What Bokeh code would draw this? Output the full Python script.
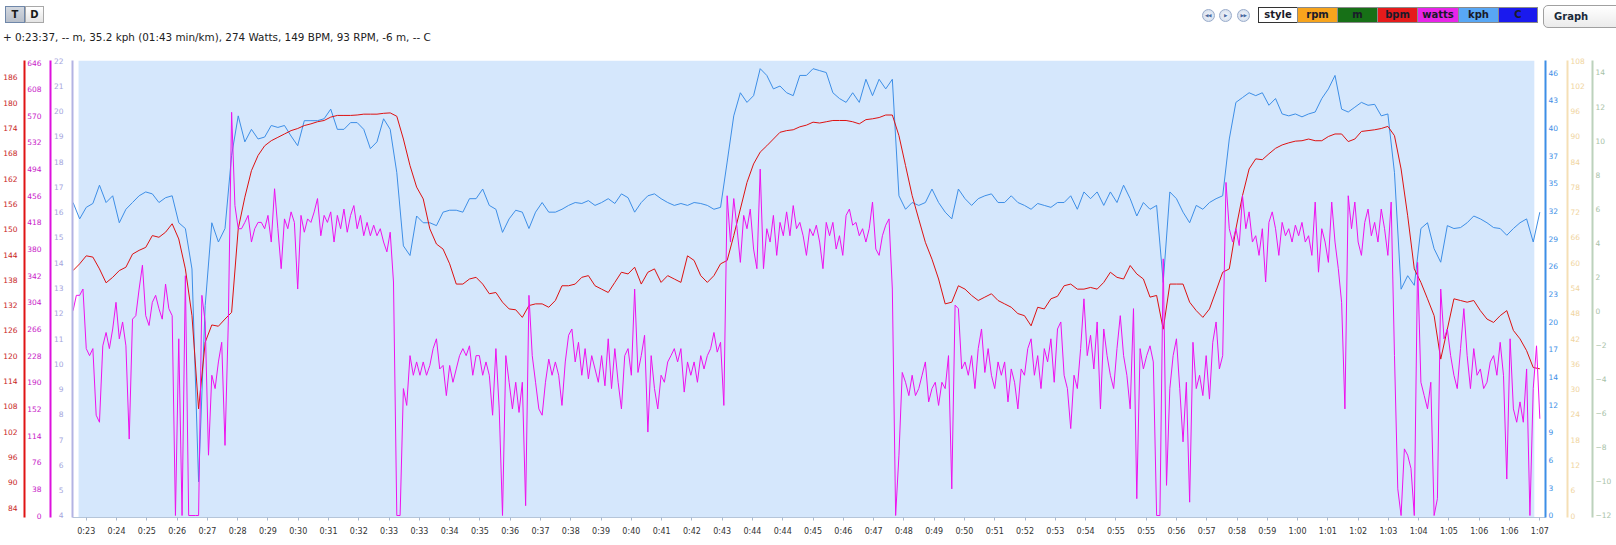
from bokeh.plotting import figure
from bokeh.models import Range1d, LinearAxis, FixedTicker, BoxAnnotation, Div
from bokeh.layouts import column
from bokeh.embed import file_html
from bokeh.resources import INLINE

# ---------------- data (time in seconds from start of ride) ----------------
time_start = 1407          # first sample, 0:23:27
watts_step = 6             # seconds between power samples
hr_speed_step = 12         # seconds between heart-rate / speed samples

watts = [292, 314, 314, 323, 238, 228, 238, 143, 133, 242,
         261, 238, 266, 304, 252, 276, 242, 109, 280, 285,
         323, 357, 285, 271, 304, 314, 295, 280, 330, 295,
         285, 0, 252, 0, 342, 0, 0, 0, 0, 314,
         276, 86, 200, 181, 219, 247, 100, 276, 575, 442,
         409, 409, 418, 428, 390, 409, 418, 418, 409, 428,
         390, 466, 409, 352, 423, 409, 433, 418, 323, 428,
         404, 423, 418, 433, 452, 399, 428, 418, 433, 390,
         428, 409, 437, 404, 428, 442, 409, 428, 399, 418,
         399, 414, 399, 409, 390, 376, 404, 333, 0, 0,
         181, 157, 228, 200, 219, 200, 219, 200, 214, 238,
         252, 209, 214, 171, 214, 190, 209, 228, 238, 228,
         242, 200, 228, 228, 200, 219, 200, 143, 238, 152,
         0, 228, 190, 152, 190, 147, 190, 14, 314, 228,
         190, 152, 143, 190, 223, 200, 219, 200, 157, 219,
         257, 266, 219, 247, 200, 238, 195, 228, 209, 190,
         228, 185, 252, 181, 238, 190, 152, 228, 238, 200,
         323, 204, 228, 257, 119, 228, 181, 152, 200, 190,
         219, 228, 238, 219, 238, 176, 219, 200, 219, 190,
         228, 209, 228, 238, 261, 233, 247, 157, 456, 390,
         452, 409, 361, 428, 409, 437, 380, 352, 494, 352,
         409, 390, 428, 371, 418, 399, 433, 399, 442, 409,
         418, 399, 371, 409, 399, 414, 390, 352, 418, 399,
         418, 380, 399, 371, 428, 437, 414, 418, 399, 409,
         390, 409, 447, 380, 371, 399, 414, 423, 323, 0,
         86, 204, 190, 171, 200, 171, 181, 200, 219, 162,
         181, 190, 157, 190, 181, 228, 38, 300, 295, 209,
         219, 200, 228, 181, 238, 266, 204, 238, 200, 181,
         219, 200, 219, 162, 209, 190, 152, 209, 200, 238,
         252, 200, 228, 181, 238, 219, 252, 190,
         266, 276, 200, 181, 124, 200, 181, 238, 309, 228,
         257, 209, 276, 152, 266, 228, 200, 181, 238, 285,
         228, 200, 152, 295, 24, 238, 209, 228, 242, 219,
         0, 0, 366, 43, 181, 228, 252, 181, 105, 190,
         19, 247, 181, 200, 171, 228, 166, 247, 276, 209,
         228, 475, 409, 390, 409, 385, 456, 409, 433, 390,
         399, 371, 409, 333, 418, 433, 409, 371, 418, 399,
         409, 390, 414, 399, 418, 390, 399, 371, 447, 347,
         409, 390, 361, 447, 390, 352, 304, 152, 456, 409,
         447, 390, 371, 418, 437, 399, 418, 390, 437, 409,
         371, 447, 228, 38, 0, 95, 86, 67, 0, 361,
         190, 171, 152, 190, 0, 24, 323, 252, 266, 228,
         200, 181, 238, 295, 228, 181, 238, 200, 209, 181,
         190, 219, 228, 200, 247, 200, 52, 252, 152, 133,
         162, 133, 209, 0, 181, 242, 138]

kph = [32.5, 30.8, 32.0, 32.4, 34.3, 32.5, 33.2, 30.4, 31.8, 32.5,
       33.2, 33.6, 33.4, 32.5, 33.0, 33.2, 30.4, 29.8, 25.6, 3.5,
       21.8, 30.4, 28.4, 29.8, 37.4, 41.5, 38.8, 40.1, 39.1, 39.3,
       40.5, 40.3, 40.5, 39.4, 38.4, 41.0, 41.0, 41.0, 41.2, 42.2,
       40.1, 40.1, 40.8, 40.8, 40.1, 38.1, 38.8, 41.2, 40.1, 35.6,
       28.0, 27.0, 31.1, 30.4, 30.4, 30.1, 31.5, 31.7, 31.7, 31.5,
       32.9, 32.9, 33.9, 32.2, 31.8, 29.4, 30.8, 31.7, 31.5, 29.8,
       31.5, 32.5, 31.5, 31.5, 31.8,
       32.2, 32.5, 32.4, 32.7, 32.2, 32.5, 32.9, 32.4, 33.4, 33.0,
       31.5, 32.5, 33.2, 33.4, 32.9, 32.5, 32.2, 32.4, 32.2, 32.5,
       32.4, 32.2, 31.8, 32.0, 36.7, 41.5, 43.9, 42.9, 43.6, 46.4,
       45.7, 44.3, 44.6, 43.9, 43.6, 45.7, 45.7, 46.4, 46.2, 46.0,
       43.9, 43.3, 42.9, 43.9, 42.9, 45.3, 43.6, 45.3, 44.3, 45.3,
       33.2, 31.8, 32.5, 32.2, 32.5, 33.9, 32.5, 31.5, 30.8, 33.9,
       32.9, 32.2, 32.9, 33.2, 33.4, 32.5, 32.5, 33.2, 32.5, 32.2,
       31.8, 32.4, 32.2, 32.0,
       32.5, 32.5, 33.2, 31.8, 33.6, 32.9, 33.6, 32.2, 33.6, 32.5,
       34.3, 32.9, 31.1, 32.5, 31.8, 32.2, 24.2, 33.6, 32.9, 31.5,
       30.4, 32.2, 31.8, 32.5, 32.9, 33.2, 39.1, 42.9, 43.4, 43.9,
       43.6, 43.9, 42.6, 43.3, 41.7, 41.5, 41.7, 41.4, 41.7, 41.9,
       43.3, 44.3, 45.7, 42.2, 41.9, 42.4, 42.9, 42.6, 42.7, 41.5,
       41.7, 35.6, 23.5, 24.9, 23.9, 29.8, 30.4, 27.7, 26.3, 30.1,
       29.8, 29.9, 30.4, 31.1, 30.8, 30.4, 29.9, 29.8, 29.1, 29.8,
       30.4, 30.8, 28.4, 31.5]

bpm = [140.2, 141.8, 143.7, 143.4, 140.6, 137.3, 138.6, 140.2, 141.0, 144.1,
       145.0, 145.7, 148.5, 148.1, 149.3, 151.3, 147.7, 140.6, 129.5, 107.4,
       123.2, 127.3, 127.0, 128.7, 130.3, 150.1, 157.6, 163.9, 167.5, 169.8,
       171.0, 171.8, 172.6, 173.4, 173.9, 174.6, 175.0, 175.5, 175.8, 176.6,
       177.0, 177.0, 177.0, 177.1, 177.3, 177.3, 177.3, 177.5, 177.6, 176.8,
       171.4, 165.1, 160.0, 157.2, 150.1, 146.5, 145.3, 141.8, 137.0, 137.0,
       138.2, 138.6, 137.0, 134.7, 135.0, 132.7, 131.1, 130.9, 129.1, 131.9,
       132.3, 132.3, 131.5, 133.1, 136.6,
       136.6, 137.0, 138.6, 139.0, 136.6, 135.8, 135.0, 137.4, 139.8, 139.4,
       141.0, 137.0, 139.8, 140.6, 137.4, 139.0, 138.2, 137.4, 143.7, 142.6,
       139.0, 137.4, 139.0, 141.8, 142.6, 148.5, 154.8, 161.1, 165.5, 168.3,
       169.8, 171.4, 173.0, 173.4, 173.6, 174.3, 174.7, 175.4, 175.2, 175.5,
       175.8, 175.8, 175.8, 175.5, 175.0, 176.0, 176.2, 176.5, 177.1, 177.1,
       172.2, 165.1, 158.0, 152.4, 146.9, 142.9, 138.2, 132.3, 132.7, 136.6,
       135.8, 134.3, 133.1, 133.9, 134.7, 133.1, 132.3, 131.5, 130.0, 129.5,
       127.1, 131.5, 131.1, 133.5,
       134.1, 136.6, 137.0, 135.8, 135.8, 136.2, 135.8, 137.4, 139.8, 138.6,
       138.2, 141.4, 139.4, 138.2, 133.9, 134.3, 126.3, 137.0, 137.0, 137.0,
       132.7, 130.7, 129.1, 131.1, 135.4, 139.8, 140.6, 150.1, 158.0, 164.3,
       166.7, 166.5, 167.9, 169.2, 170.0, 170.5, 170.9, 171.0, 171.4, 171.0,
       171.0, 172.0, 172.6, 172.6, 170.8, 171.4, 173.2, 173.4, 173.6, 173.9,
       174.4, 172.2, 164.3, 153.2, 140.6, 137.4, 133.5, 129.5, 119.2, 126.3,
       133.5, 133.1, 132.7, 133.1, 130.7, 128.7, 127.9, 129.5, 130.7, 126.0,
       124.0, 121.2, 117.2, 116.9]

selection_start, selection_end = 1417, 4061   # highlighted range (0:23:37 ...)

x_tick_labels = ["0:23", "0:24", "0:25", "0:26", "0:27", "0:28", "0:29", "0:30", "0:31", "0:32",
                 "0:33", "0:33", "0:34", "0:35", "0:36", "0:37", "0:38", "0:39", "0:40", "0:41",
                 "0:42", "0:43", "0:44", "0:44", "0:45", "0:46", "0:47", "0:48", "0:49", "0:50",
                 "0:51", "0:52", "0:53", "0:54", "0:55", "0:55", "0:56", "0:57", "0:58", "0:59",
                 "1:00", "1:01", "1:02", "1:03", "1:04", "1:05", "1:06", "1:06", "1:07"]
x_tick_first, x_tick_step = 1431, 55

bpm_ticks = [84, 90, 96, 102, 108, 114, 120, 126, 132, 138, 144, 150, 156, 162, 168, 174, 180, 186]
watts_ticks = [0, 38, 76, 114, 152, 190, 228, 266, 304, 342, 380, 418, 456, 494, 532, 570, 608, 646]
lav_ticks = [4, 5, 6, 7, 8, 9, 10, 11, 12, 13, 14, 15, 16, 17, 18, 19, 20, 21, 22]
kph_tick_step = 2.875
kph_tick_labels = ["0", "3", "6", "9", "12", "14", "17", "20", "23", "26", "29", "32", "35", "37", "40", "43", "46"]
rpm_ticks = [0, 6, 12, 18, 24, 30, 36, 42, 48, 54, 60, 66, 72, 78, 84, 90, 96, 102, 108]
temp_ticks = [-12, -10, -8, -6, -4, -2, 0, 2, 4, 6, 8, 10, 12, 14]

header_text = "+ 0:23:37, -- m, 35.2 kph (01:43 min/km), 274 Watts, 149 BPM, 93 RPM, -6 m, -- C"
legend_names = ["style", "rpm", "m", "bpm", "watts", "kph", "C"]
legend_colors = ["#ffffff", "#f7a41d", "#177017", "#e51b1b", "#e824e8", "#58a7f5", "#1a1aee"]
nav_symbols = ["\u25c0\u25c0", "\u25b6", "\u25b6\u25b6"]

# ---------------- derived ----------------
watts_t = [time_start + watts_step * i for i in range(len(watts))]
hs_t = [time_start + hr_speed_step * i for i in range(len(kph))]
x_ticks = [x_tick_first + x_tick_step * i for i in range(len(x_tick_labels))]
kph_ticks = [kph_tick_step * i for i in range(len(kph_tick_labels))]

FONT = "DejaVu Sans"

# ---------------- header strip (HTML) ----------------
def box(left, top, w, h, style, inner=""):
    return (f'<div style="position:absolute;left:{left}px;top:{top}px;width:{w}px;height:{h}px;'
            f'box-sizing:border-box;{style}">{inner}</div>')

parts = []
parts.append(box(5, 6, 20, 17, "background:linear-gradient(#d3d8e0,#b8bfca);border:1px solid #6f87a9;"
                 "font-weight:bold;font-size:10px;line-height:15px;text-align:center;color:#1a1a1a;", "T"))
parts.append(box(25, 6, 19, 17, "background:linear-gradient(#ffffff,#e4e4e4);border:1px solid #a8a8a8;"
                 "font-weight:bold;font-size:10px;line-height:15px;text-align:center;color:#1a1a1a;", "D"))
parts.append(box(3, 31, 720, 13, "font-size:10.4px;line-height:13px;color:#222;white-space:nowrap;", header_text))
for cx, sym in zip([1208, 1225.5, 1243.5], nav_symbols):
    parts.append(box(cx - 6.5, 8.5, 13, 13,
                     "border-radius:50%;background:radial-gradient(#f6f8fc,#cad7e8);border:1px solid #9aaccb;"
                     "font-size:4.5px;line-height:11px;text-align:center;color:#4a6aa0;letter-spacing:-0.5px;"
                     "overflow:hidden;", sym))
lb_edges = [1258, 1297, 1337, 1377, 1417, 1458, 1498, 1537]
for a, b, name, col in zip(lb_edges[:-1], lb_edges[1:], legend_names, legend_colors):
    brd = "#333" if name == "style" else "#8a8a8a"
    parts.append(box(a, 7, b - a + 1, 16, f"background:{col};border:1px solid {brd};font-weight:bold;"
                     "font-size:10px;line-height:14px;text-align:center;color:#1a1a2a;", name))
parts.append(box(1543, 5, 90, 23, "border-radius:5px;background:linear-gradient(#ffffff,#ebebeb);"
                 "border:1px solid #a0a0a0;font-weight:bold;font-size:10px;line-height:21px;"
                 "padding-left:10px;color:#1a2a3a;", "Graph"))
header_html = ('<div style="position:relative;width:1616px;height:55px;overflow:hidden;'
               f"font-family:'{FONT}';background:#ffffff;\">" + "".join(parts) + "</div>")
header = Div(text=header_html, width=1616, height=55, margin=(0, 0, 0, 0))

# ---------------- main chart ----------------
p = figure(width=1616, height=490, x_range=Range1d(1406, 4081.3), y_range=Range1d(81.63, 190.03),
           toolbar_location=None, output_backend="svg", x_axis_location=None, y_axis_location=None,
           min_border_left=72, min_border_right=71, min_border_top=5, min_border_bottom=28,
           outline_line_color=None, margin=(0, 0, 0, 0))
p.grid.visible = False
p.extra_y_ranges = {
    "watts": Range1d(-2.85, 648.9),
    "lav": Range1d(3.92, 22.0),
    "kph": Range1d(-0.21, 47.25),
    "rpm": Range1d(-0.47, 108.0),
    "temp": Range1d(-12.12, 14.70),
}

p.add_layout(BoxAnnotation(left=selection_start, right=selection_end, fill_color="#d5e7fc",
                           fill_alpha=1, line_color=None, level="underlay"))


def add_y(side, rng, ticks, line_color, text_color, standoff, pad=None, overrides=None):
    ax = LinearAxis(ticker=FixedTicker(ticks=ticks), axis_line_color=line_color, axis_line_width=2,
                    major_tick_line_color=None, minor_tick_line_color=None,
                    major_tick_out=0, major_tick_in=0, minor_tick_out=0, minor_tick_in=0,
                    major_label_standoff=standoff, major_label_text_color=text_color,
                    major_label_text_font=FONT, major_label_text_font_size="7.5px")
    if rng is not None:
        ax.y_range_name = rng
    if overrides is not None:
        ax.major_label_overrides = overrides
    if pad is not None:
        ax.axis_label = " "
        ax.axis_label_text_font_size = "1px"
        ax.axis_label_standoff = pad
    p.add_layout(ax, side)


# left axes (closest to the plot first)
add_y("left", "lav", lav_ticks, "#b3b3e3", "#a4a4dc", 9)
add_y("left", "watts", watts_ticks, "#dd11dd", "#c81ac8", 9)
add_y("left", None, bpm_ticks, "#e01414", "#c81e1e", 7)
# right axes
add_y("right", "kph", kph_ticks, "#3d8ee6", "#3d8ee6", 3, pad=2,
      overrides={t: l for t, l in zip(kph_ticks, kph_tick_labels)})
add_y("right", "rpm", rpm_ticks, "#f5dfb5", "#f0d49e", 3, pad=1)
add_y("right", "temp", temp_ticks, "#bcd2bc", "#a8c2a8", 3)

xax = LinearAxis(ticker=FixedTicker(ticks=x_ticks),
                 major_label_overrides={t: l for t, l in zip(x_ticks, x_tick_labels)},
                 axis_line_color="#b5c5d9", axis_line_width=1,
                 major_tick_line_color="#a9b9cf", major_tick_out=3, major_tick_in=0,
                 minor_tick_line_color=None, major_label_standoff=6,
                 major_label_text_font=FONT, major_label_text_font_size="8px",
                 major_label_text_color="#333333")
p.add_layout(xax, "below")

p.line(hs_t, kph, y_range_name="kph", line_color="#3d8ee6", line_width=1)
p.line(hs_t, bpm, line_color="#dd1111", line_width=1)
p.line(watts_t, watts, y_range_name="watts", line_color="#ee11ee", line_width=1)

layout = column(header, p, spacing=0)
open("out.html", "w").write(file_html(layout, INLINE))
